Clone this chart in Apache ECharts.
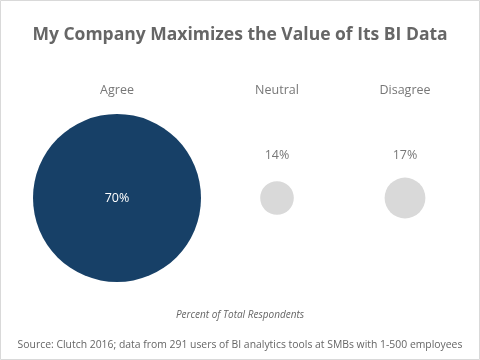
<!DOCTYPE html>
<html><head><meta charset="utf-8">
<script src="https://cdn.jsdelivr.net/npm/echarts@6/dist/echarts.min.js"></script>
<style>html,body{margin:0;padding:0;background:#fff}#c{width:480px;height:360px}</style>
</head><body><div id="c"></div>
<script>
var categories = ['Agree', 'Neutral', 'Disagree'];
var values = [70, 14, 17];
var labels = ['70%', '14%', '17%'];

var titleText = 'My Company Maximizes the Value of Its BI Data';
var captionText = 'Percent of Total Respondents';
var sourceText = 'Source: Clutch 2016; data from 291 users of BI analytics tools at SMBs with 1-500 employees';

var FONT = '"Open Sans", sans-serif';
var colors = ['#174067', '#d9d9d9', '#d9d9d9'];
var gridCenters = [117, 277, 405];
var gw = 120;

var grids = [], xAxes = [], yAxes = [], series = [];
categories.forEach(function (cat, i) {
  grids.push({ left: gridCenters[i] - gw / 2, width: gw, top: 114, height: 168 });
  xAxes.push({
    type: 'category', gridIndex: i, data: [cat], position: 'top',
    axisLine: { show: false }, axisTick: { show: false }, splitLine: { show: false },
    axisLabel: { color: '#777', fontFamily: FONT, fontSize: 12.5, margin: 17 }
  });
  yAxes.push({ type: 'value', gridIndex: i, min: -1, max: 1, show: false });
  series.push({
    type: 'scatter', xAxisIndex: i, yAxisIndex: i,
    data: [[cat, 0, values[i], labels[i]]],
    symbolSize: function (d) { return d[2] * 2.4; },
    itemStyle: { color: colors[i], opacity: 1 },
    emphasis: { disabled: true },
    label: {
      show: true,
      formatter: function (p) { return p.data[3]; },
      position: 'inside',
      offset: i === 0 ? [0, 0] : [0, -43],
      color: i === 0 ? '#fff' : '#777',
      fontFamily: FONT, fontSize: 12.5
    }
  });
});

var chart = echarts.init(document.getElementById('c'));
chart.setOption({
  animation: false,
  title: [
    { text: titleText, left: 'center', top: 21, textStyle: { fontFamily: FONT, fontWeight: 'bold', fontSize: 17.5, color: '#666' } },
    { text: captionText, left: 'center', top: 305, textStyle: { fontFamily: FONT, fontStyle: 'italic', fontWeight: 'normal', fontSize: 10, color: '#666' } },
    { text: sourceText, left: 'center', top: 335, textStyle: { fontFamily: FONT, fontWeight: 'normal', fontSize: 10.4, color: '#666' } }
  ],
  graphic: [{ type: 'rect', shape: { x: 0.5, y: 0.5, width: 479, height: 359 }, style: { fill: 'none', stroke: '#d9d9d9', lineWidth: 1 }, silent: true }],
  grid: grids, xAxis: xAxes, yAxis: yAxes, series: series
});
</script></body></html>
